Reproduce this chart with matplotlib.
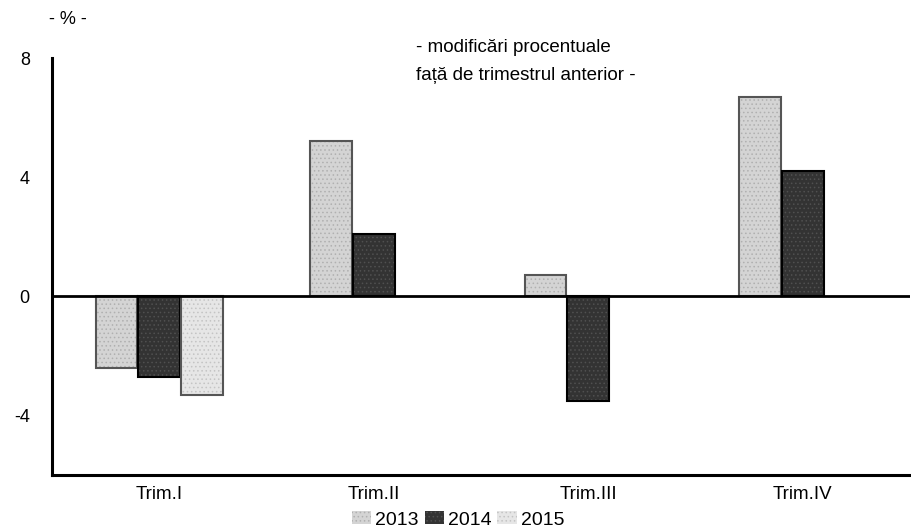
import matplotlib
matplotlib.use("Agg")
import matplotlib.pyplot as plt
import numpy as np

plt.rcParams['font.family'] = ['Liberation Sans', 'DejaVu Sans']
plt.rcParams['hatch.linewidth'] = 0.6

categories = ["Trim.I", "Trim.II", "Trim.III", "Trim.IV"]
series_names = ["2013", "2014", "2015"]
v2013 = [-2.4, 5.2, 0.7, 6.7]
v2014 = [-2.7, 2.1, -3.5, 4.2]
v2015 = [-3.3, np.nan, np.nan, np.nan]
yticks = [-4, 0, 4, 8]

styles = [
    dict(facecolor="#d4d4d4", edgecolor="#555555", hatch="....", hc="#b0b0b0"),
    dict(facecolor="#333333", edgecolor="#000000", hatch="....", hc="#505050"),
    dict(facecolor="#e6e6e6", edgecolor="#555555", hatch="....", hc="#c4c4c4"),
]

fig = plt.figure(figsize=(9.11, 5.32), dpi=100)
ax = fig.add_axes([52/911, 1-475/532, 858/911, (475-58)/532])

x = np.arange(len(categories))
w = 0.2
handles = []
for i, (vals, st) in enumerate(zip([v2013, v2014, v2015], styles)):
    bars = ax.bar(x + (i - 1) * w, vals, width=w * 0.97, facecolor=st["facecolor"],
                  edgecolor=st["hc"], hatch=st["hatch"], linewidth=0, label=series_names[i], zorder=2)
    ax.bar(x + (i - 1) * w, vals, width=w * 0.97, facecolor="none",
           edgecolor=st["edgecolor"], linewidth=1.5, zorder=3)
    handles.append(bars)

ax.set_xlim(-0.5, 3.5)
ax.set_ylim(-6, 8)
ax.set_yticks(yticks)
ax.set_yticklabels([str(t) for t in yticks], fontsize=13)
ax.set_xticks(x)
ax.set_xticklabels(categories, fontsize=13.5)
ax.tick_params(axis='both', length=0)
ax.tick_params(axis='y', pad=16)
ax.tick_params(axis='x', pad=8)

ax.axhline(0, color="black", linewidth=2, zorder=4)
for s in ["top", "right"]:
    ax.spines[s].set_visible(False)
ax.spines["left"].set_linewidth(2.2)
ax.spines["bottom"].set_linewidth(2.2)

fig.text(68/911, 1-19/532, "- % -", fontsize=13, ha="center", va="center")
fig.text(416/911, 1-48/532, "- modificări procentuale", fontsize=13.5, ha="left", va="center")
fig.text(416/911, 1-75/532, "față de trimestrul anterior -", fontsize=13.5, ha="left", va="center")

leg = fig.legend(handles=handles, labels=series_names, loc="center", bbox_to_anchor=(458/911, 1-520/532),
                 ncol=3, frameon=False, fontsize=14, handlelength=1.0, handleheight=0.6,
                 handletextpad=0.2, columnspacing=0.3, borderpad=0)

fig.savefig("out.png", dpi=100)
